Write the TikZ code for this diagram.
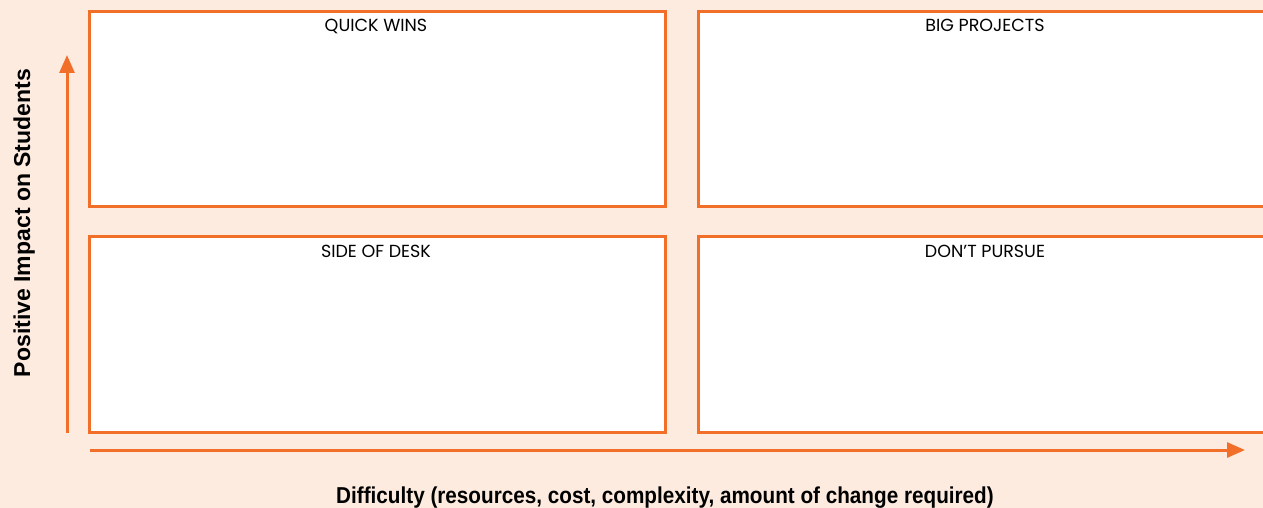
\documentclass[tikz,border=0pt]{standalone}
\usepackage{fontspec}
\setmainfont{Poppins}
\newfontfamily\axisfont[FakeStretch=0.9]{Liberation Sans}
\newfontfamily\yaxisfont{Liberation Sans}
\usetikzlibrary{arrows.meta}
\definecolor{bgc}{RGB}{253,235,223}
\definecolor{orng}{RGB}{242,111,42}
\tikzset{
  quad/.style={draw=orng, line width=2.6pt, fill=white, anchor=north west, inner sep=0pt},
  quadlabel/.style={font=\fontsize{17.5}{18}\selectfont, text=black, anchor=base},
  axisarrow/.style={draw=orng, line width=3pt, -{Triangle[length=18pt,width=15pt]}},
  axislabel/.style={font=\axisfont\bfseries\fontsize{23}{24}\selectfont, text=black, anchor=base}
}
\begin{document}
\begin{tikzpicture}[x=1pt,y=-1pt]
\useasboundingbox[fill=bgc] (0,0) rectangle (1263,508);
\node[quad, minimum width=576pt, minimum height=195pt] (qw) at (88,10) {};
\node[quad, minimum width=580pt, minimum height=195pt] (bp) at (697,10) {};
\node[quad, minimum width=576pt, minimum height=196pt] (sd) at (88,235) {};
\node[quad, minimum width=580pt, minimum height=196pt] (dp) at (697,235) {};
\node[quadlabel] (lqw) at (376,32) {QUICK WINS};
\node[quadlabel] (lbp) at (985,32) {BIG PROJECTS};
\node[quadlabel] (lsd) at (376,257.5) {SIDE OF DESK};
\node[quadlabel] (ldp) at (985,257.5) {DON’T PURSUE};
\coordinate (vs) at (67,433);
\coordinate (ve) at (67,55);
\coordinate (hs) at (90,450);
\coordinate (he) at (1245,450);
\draw[axisarrow] (vs) -- (ve);
\draw[axisarrow] (hs) -- (he);
\node[axislabel] (xl) at (665,503) {Difficulty (resources, cost, complexity, amount of change required)};
\node[axislabel, font=\yaxisfont\bfseries\fontsize{23}{24}\selectfont, rotate=90] (yl) at (30,223) {Positive Impact on Students};
\end{tikzpicture}
\end{document}
